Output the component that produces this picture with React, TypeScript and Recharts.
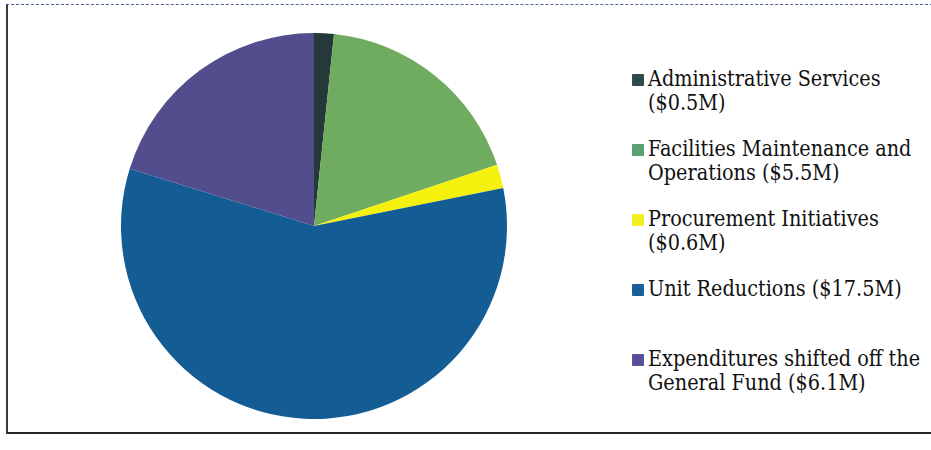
import React from "react";
import { PieChart, Pie, Cell, Legend } from "recharts";

const categories = [
  "Administrative Services",
  "Facilities Maintenance and Operations",
  "Procurement Initiatives",
  "Unit Reductions",
  "Expenditures shifted off the General Fund",
];
const amounts = [0.5, 5.5, 0.6, 17.5, 6.1];
const sliceColors = ["#26393a", "#6fac60", "#f4f20c", "#145c94", "#524e8d"];
const markerColors = ["#2f4a4a", "#5ba070", "#f3ee22", "#1a5e9a", "#584f98"];

const pieData = categories.map((name, i) => ({ name, value: amounts[i] }));

const FONT = '"DejaVu Serif Condensed", "DejaVu Serif", serif';

const renderLegend = () => (
  <div
    style={{
      fontFamily: FONT,
      fontStretch: "condensed",
      fontSize: 21.4,
      color: "#111",
    }}
  >
    {pieData.map((d, i) => (
      <div
        key={d.name}
        style={{ display: "flex", alignItems: "flex-start", height: 70 }}
      >
        <span
          style={{
            width: 12,
            height: 12,
            marginTop: 7,
            marginRight: 4,
            flexShrink: 0,
            background: markerColors[i],
            borderRadius: 1,
          }}
        />
        <span style={{ width: 280, lineHeight: "24px" }}>
          {d.name} (${d.value}M)
        </span>
      </div>
    ))}
  </div>
);

export default function App() {
  return (
    <div
      style={{
        position: "absolute",
        left: 0,
        top: 0,
        width: 931,
        height: 450,
        background: "#fff",
        overflow: "hidden",
      }}
    >
      {/* scanned frame around the chart */}
      <div
        style={{
          position: "absolute",
          left: 6,
          top: 4,
          width: 940,
          height: 427,
          borderTop: "1px dashed #4b62a8",
          borderLeft: "2px solid #3a3a3a",
          borderBottom: "2px solid #262626",
        }}
      />
      <PieChart width={931} height={450}>
        <Pie
          data={pieData}
          dataKey="value"
          nameKey="name"
          cx={309}
          cy={221}
          outerRadius={193}
          startAngle={90}
          endAngle={-270}
          stroke="none"
          isAnimationActive={false}
        >
          {pieData.map((d, i) => (
            <Cell key={d.name} fill={sliceColors[i]} />
          ))}
        </Pie>
        <Legend
          layout="vertical"
          align="right"
          verticalAlign="top"
          content={renderLegend}
          wrapperStyle={{ left: 632, top: 67, width: 297 }}
        />
      </PieChart>
    </div>
  );
}
